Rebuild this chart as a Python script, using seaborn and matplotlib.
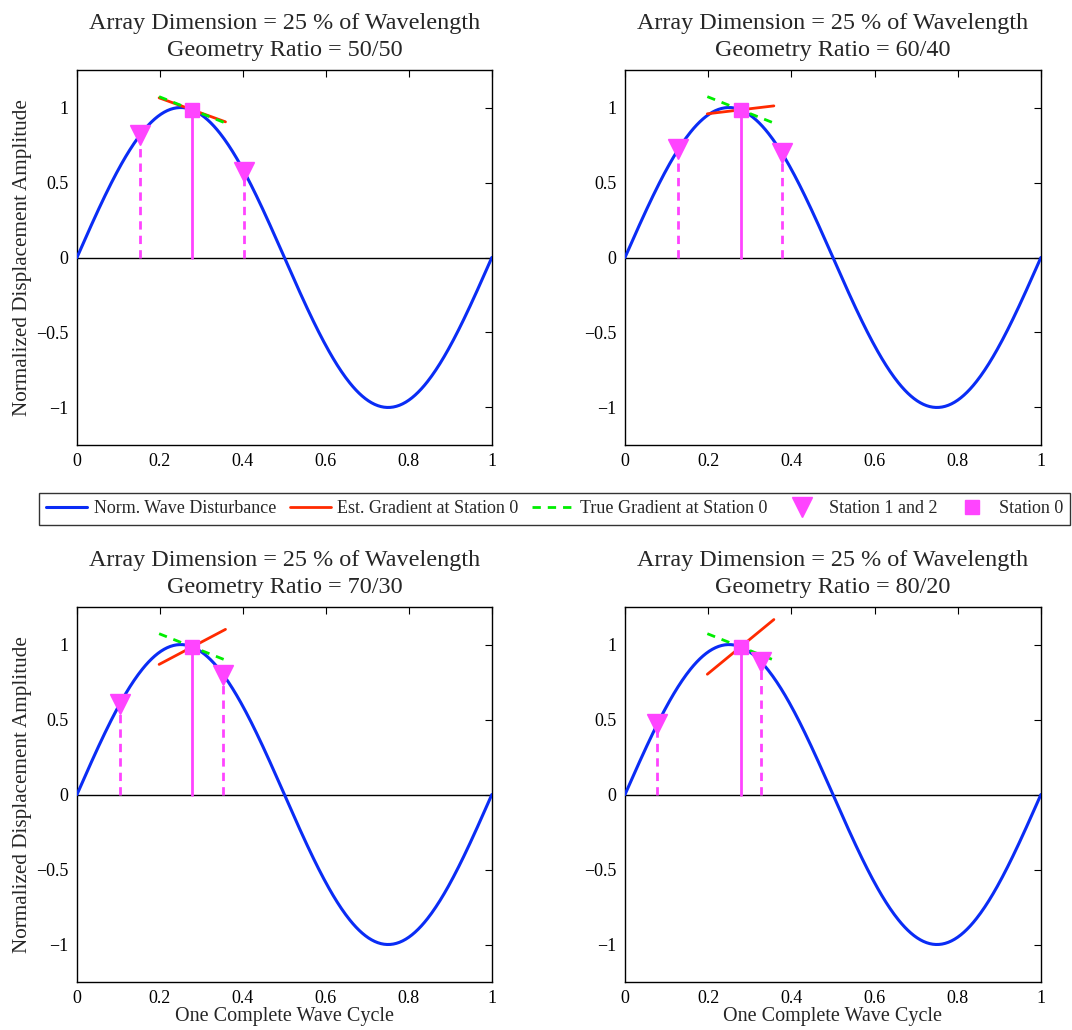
import numpy as np
import pandas as pd
import matplotlib
matplotlib.use("Agg")
import matplotlib.pyplot as plt
import seaborn as sns
from matplotlib.lines import Line2D

sns.set_style("white")
plt.rcParams["font.family"] = ["Liberation Serif", "DejaVu Serif"]

# Array configuration
array_dimension = 25
geometry_ratios = ["50/50", "60/40", "70/30", "80/20"]
station0_x = 0.278
station1_x = [0.153, 0.128, 0.103, 0.078]
station2_x = [0.403, 0.378, 0.353, 0.328]
est_gradient = [-1.0, 0.33, 1.46, 2.28]
gradient_half_span = 0.08

# One full cycle of the normalised wave
cycle_x = np.linspace(0, 1, 401)
wave = pd.DataFrame({"x": cycle_x, "y": np.sin(2 * np.pi * cycle_x)})

x_ticks = [0, 0.2, 0.4, 0.6, 0.8, 1]
y_ticks = [-1, -0.5, 0, 0.5, 1]

BLUE = "#0a2cf5"
RED = "#ff2a00"
GREEN = "#00ee00"
MAGENTA = "#ff44ff"


def amp(x):
    return np.sin(2 * np.pi * np.asarray(x))


fig = plt.figure(figsize=(10.72, 10.30), dpi=100)
positions = [
    [0.0718, 0.568, 0.387, 0.364],
    [0.583, 0.568, 0.388, 0.364],
    [0.0718, 0.0466, 0.387, 0.364],
    [0.583, 0.0466, 0.388, 0.364],
]

for i, ratio in enumerate(geometry_ratios):
    ax = fig.add_axes(positions[i])
    ax.axhline(0, color="black", lw=1.0, zorder=1)
    sns.lineplot(data=wave, x="x", y="y", ax=ax, color=BLUE, lw=2.2, zorder=3)

    x1, x2 = station1_x[i], station2_x[i]
    y0 = float(amp(station0_x))
    y1, y2 = float(amp(x1)), float(amp(x2))

    # station stems
    ax.plot([x1, x1], [0, y1], color=MAGENTA, lw=2, ls=(0, (3, 2.2)), zorder=4)
    ax.plot([x2, x2], [0, y2], color=MAGENTA, lw=2, ls=(0, (3, 2.2)), zorder=4)
    ax.plot([station0_x, station0_x], [0, y0], color=MAGENTA, lw=2, zorder=4)

    # gradients at station 0
    gx = np.array([station0_x - gradient_half_span, station0_x + gradient_half_span])
    true_slope = 2 * np.pi * np.cos(2 * np.pi * station0_x)
    ax.plot(gx, y0 + est_gradient[i] * (gx - station0_x), color=RED, lw=2, zorder=5)
    ax.plot(gx, y0 + true_slope * (gx - station0_x), color=GREEN, lw=2,
            ls=(0, (3, 2.5)), zorder=6)

    # station markers
    ax.plot([x1, x2], [y1, y2], ls="none", marker="v", ms=15, color=MAGENTA,
            mec=MAGENTA, zorder=7)
    ax.plot([station0_x], [y0], ls="none", marker="s", ms=9.5, color=MAGENTA,
            mec=MAGENTA, zorder=7)

    ax.set_xlim(0, 1)
    ax.set_ylim(-1.25, 1.25)
    ax.set_xticks(x_ticks)
    ax.set_xticklabels(["0", "0.2", "0.4", "0.6", "0.8", "1"])
    ax.set_yticks(y_ticks)
    ax.set_yticklabels(["\u22121", "\u22120.5", "0", "0.5", "1"])
    ax.tick_params(direction="in", top=True, right=True, length=5, width=0.8,
                   labelsize=13, pad=6, colors="black")
    for s in ax.spines.values():
        s.set_color("black")
        s.set_linewidth(1.0)
    ax.set_title(f"Array Dimension = {array_dimension} % of Wavelength\n"
                 f"Geometry Ratio = {ratio}", fontsize=17.4, linespacing=1.38, pad=10)
    ax.set_xlabel("One Complete Wave Cycle" if i >= 2 else "", fontsize=14.5, labelpad=0)
    ax.set_ylabel("Normalized Displacement Amplitude" if i % 2 == 0 else "",
                  fontsize=15.2, labelpad=3)

handles = [
    Line2D([], [], color=BLUE, lw=2.2),
    Line2D([], [], color=RED, lw=2),
    Line2D([], [], color=GREEN, lw=2, ls=(0, (3, 2.5))),
    Line2D([], [], ls="none", marker="v", ms=15, color=MAGENTA),
    Line2D([], [], ls="none", marker="s", ms=9.5, color=MAGENTA),
]
labels = ["Norm. Wave Disturbance", "Est. Gradient at Station 0",
          "True Gradient at Station 0", "Station 1 and 2", "Station 0"]
leg = fig.legend(handles, labels, loc="center left", bbox_to_anchor=(0.036, 0.506),
                 ncol=5, fontsize=13.0, frameon=True, fancybox=False,
                 edgecolor="black", handlelength=2.3, handletextpad=0.35,
                 columnspacing=0.75, borderpad=0.4, borderaxespad=0)
leg.get_frame().set_linewidth(1.0)

fig.savefig("out.png", dpi=100, facecolor="white")
